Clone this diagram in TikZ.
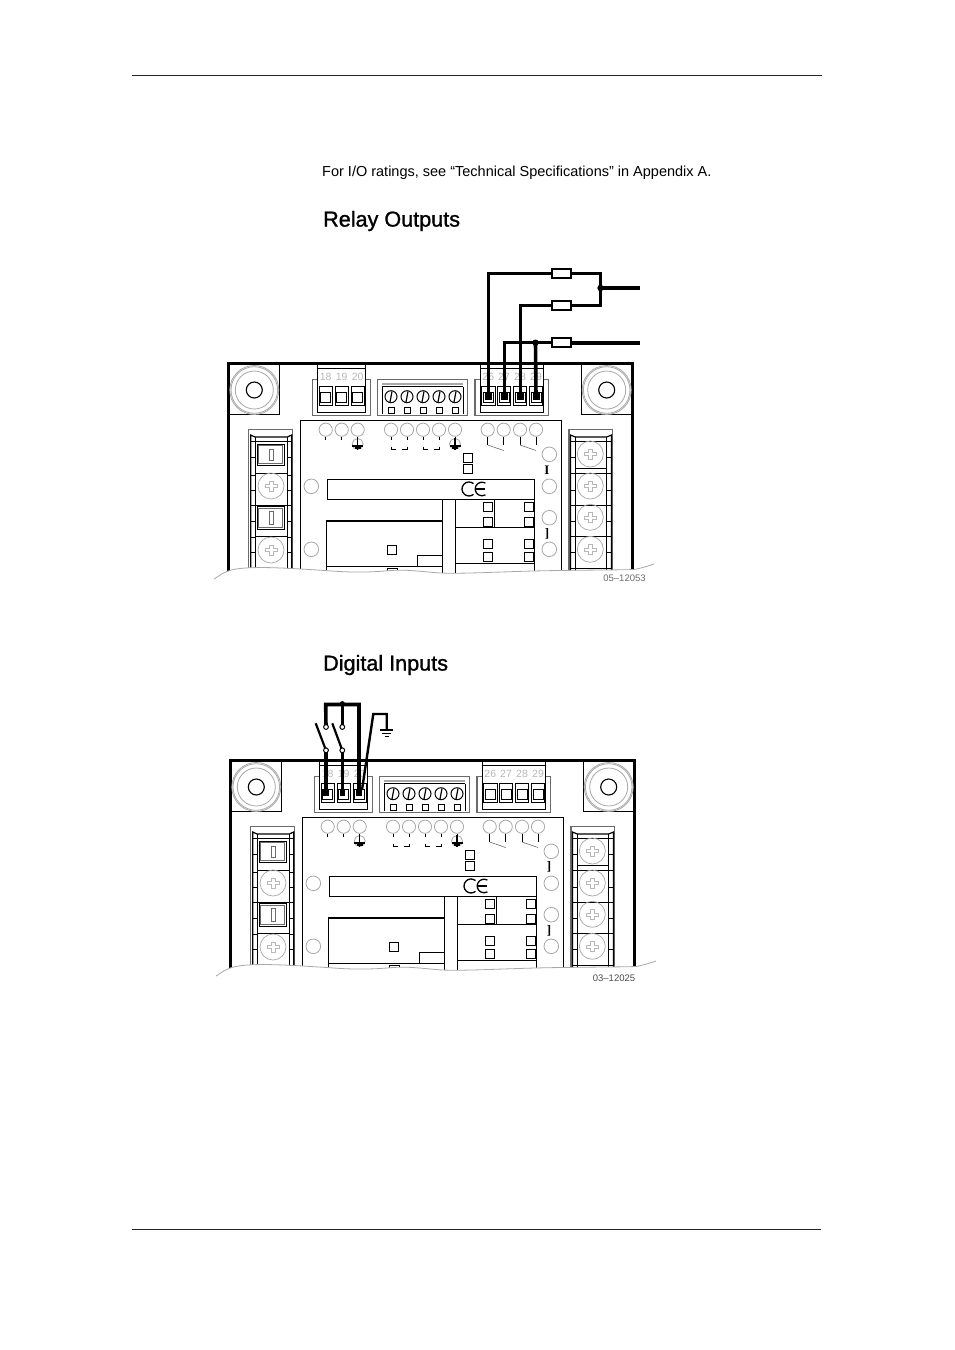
\documentclass[tikz,border=0pt]{standalone}
\usepackage{fontspec}
\setmainfont{Liberation Sans}
\newfontfamily\headfont[FakeBold=1.2]{Liberation Sans}
\newfontfamily\seriffont{Liberation Serif}
\definecolor{lg}{gray}{0.66}
\definecolor{sg}{gray}{0.72}
\definecolor{mg}{gray}{0.42}
\tikzset{
  blk/.style={draw=black,line width=1pt},
  thk/.style={draw=black,line width=1.5pt},
  outerframe/.style={draw=black,line width=2.8pt},
  gry/.style={draw=lg,line width=0.8pt},
  dgry/.style={draw=mg,line width=1.2pt},
  wire/.style={draw=black,line width=3pt,line join=miter},
  heavy/.style={draw=black,line width=3.6pt},
  fuse/.style={draw=black,line width=2pt,fill=white,minimum width=19pt,minimum height=8.5pt,inner sep=0pt,rectangle},
  termnum/.style={text=sg,font=\fontsize{10.5}{11}\selectfont,inner sep=0pt},
  heading/.style={anchor=west,inner sep=0pt,font=\headfont\fontsize{21.6}{24}\selectfont},
  bodytext/.style={anchor=west,inner sep=0pt,font=\fontsize{14.5}{16}\selectfont},
  figcode/.style={text=mg,font=\fontsize{9.5}{10}\selectfont,inner sep=0pt},
  rl/.style={draw=black!85,line width=0.9pt},
  glyphmark/.style={font=\seriffont\bfseries\fontsize{13}{13}\selectfont,inner sep=0pt,text=black}
}
\newcommand{\screwpic}[2]{%
  \draw[gry,line width=0.7pt] (#1,#2) circle (13);
  \draw[draw=sg,line width=0.6pt] (#1-6,#2-1.5) -- (#1-2,#2-1.5) -- (#1-2,#2-5) -- (#1+2,#2-5) -- (#1+2,#2-1.5) -- (#1+6,#2-1.5) -- (#1+6,#2+1.5) -- (#1+2,#2+1.5) -- (#1+2,#2+5) -- (#1-2,#2+5) -- (#1-2,#2+1.5) -- (#1-6,#2+1.5) -- cycle;
}
\newcommand{\mountpic}[2]{%
  \draw[gry] (#1,#2) circle (24.5);
  \draw[gry] (#1,#2) circle (23.3);
  \draw[gry] (#1,#2) circle (19);
  \draw[blk,line width=1.1pt] (#1,#2) circle (8);
}
\newcommand{\boardbody}{%
  % outer frame
  \draw[outerframe] (228.3,575) -- (228.3,363.7) -- (632.5,363.7) -- (632.5,575);
  % mount boxes
  \draw[blk,line width=0.8pt] (228.3,414.3) -- (279.3,414.3) -- (279.3,364);
  \draw[blk,line width=0.8pt] (632,414.3) -- (581.7,414.3) -- (581.7,364);
  \mountpic{254.3}{390}
  \mountpic{606.7}{390}
  % left terminal
  \draw[dgry] (312.3,379.3) rectangle (370.3,415.7);
  \draw[fill=white,blk] (317.7,364) rectangle (365.7,412.7);
  \draw[blk] (317.7,368.8) -- (365.7,368.8);
  \foreach \n/\x in {18/325.7,19/341.7,20/357.7}{
    \node[termnum] at (\x,376.7) {\n};
    \draw[blk,fill=white] (\x-6.7,386) rectangle (\x+6.7,405);
    \draw[blk] (\x-5,392.5) rectangle (\x+5,402.5);
  }
  % middle connector
  \draw[dgry,fill=white] (377.7,379.3) rectangle (467.3,415.7);
  \draw[lg,line width=1.6pt] (382,384) -- (463,384);
  \draw[blk] (382,386.5) -- (463,386.5);
  \draw[blk] (382,386.5) -- (382,414);
  \draw[blk] (463,386.5) -- (463,414);
  \foreach \x in {391,407,423,439,455}{
    \draw[blk] (\x,396.7) circle (6);
    \draw[blk,line width=1.2pt] (\x-1,402) -- (\x+1,391.5);
    \draw[blk,fill=white] (\x-3,407) rectangle (\x+3,413);
  }
  % right terminal
  \draw[dgry] (475,379.3) rectangle (548.3,415.7);
  \draw[fill=white,blk] (480,364) rectangle (543.3,412.7);
  \draw[blk] (480,368.8) -- (543.3,368.8);
  \foreach \n/\x in {26/488.3,27/504,28/520,29/536}{
    \node[termnum] at (\x,376.7) {\n};
    \draw[blk,fill=white] (\x-6.7,386) rectangle (\x+6.7,405);
    \draw[blk] (\x-5,392.5) rectangle (\x+5,402.5);
  }
  % panel
  \draw[blk] (300.3,575) -- (300.3,420.3) -- (561.7,420.3) -- (561.7,575);
  \foreach \x in {325.7,341.7,357.7,391,407,423,439,455,487.7,503.7,520,536}{
    \draw[gry] (\x,429.7) circle (6.6);
  }
  \foreach \x in {325.7,341.7,357.7,391,407,423,439,455}{
    \draw[blk,line width=0.7pt] (\x,436.5) -- (\x,439.5);
  }
  \foreach \x in {357.7,455}{
    \draw[gry] (\x,444) circle (5.5);
    \draw[black,line width=1.2pt] (\x,438) -- (\x,450);
    \draw[black,line width=2pt] (\x-5.5,445.5) -- (\x+5.5,445.5);
    \draw[black,line width=1.6pt] (\x-3,448) -- (\x+3,448);
  }
  \foreach \a/\b in {391/407,423/439}{
    \draw[blk,line width=0.7pt] (\a,446.5) -- (\a,449.3) -- (\a+5,449.3);
    \draw[blk,line width=0.7pt] (\b,446.5) -- (\b,449.3) -- (\b-5,449.3);
  }
  \foreach \x in {487.7,503.7,520,536}{
    \draw[blk,line width=0.7pt] (\x,436.5) -- (\x,445);
  }
  \draw[draw=mg,line width=0.6pt] (487.7,445) -- (503.7,450.5) (520,445) -- (536,450.5);
  % side holes
  \foreach \x/\y in {311.3/486.3,311.3/549.3,549.3/454.3,549.3/486.3,549.3/517.7,549.3/549.3}{
    \draw[gry] (\x,\y) circle (7.3);
  }
  % central blocks
  \draw[blk] (327.3,499.3) -- (327.3,479.3) -- (534.3,479.3) -- (534.3,575);
  \draw[blk] (327.3,499.3) -- (534.3,499.3);
  \draw[thk] (326.7,575) -- (326.7,521) -- (442.3,521);
  \draw[blk] (442.3,499.3) -- (442.3,575);
  \draw[blk] (455.7,499.3) -- (455.7,575);
  \draw[blk] (494.3,499.3) -- (494.3,527.3);
  \draw[blk] (455.7,527.3) -- (534.3,527.3);
  \draw[blk] (455.7,563.3) -- (534.3,563.3);
  \draw[blk] (326.7,566) -- (442.3,566);
  \draw[blk] (417.3,566) -- (417.3,555) -- (442.3,555);
  \draw[blk] (387.5,545.5) rectangle (396.5,554.5);
  \draw[blk] (387,568.5) rectangle (397,575);
  \foreach \x/\y in {488/506.7,488/521.7,488/544.3,488/557.3,529/506.7,529/521.7,529/544.3,529/557.3,468/457.7,468/469.3}{
    \draw[blk] (\x-4.5,\y-4.5) rectangle (\x+4.5,\y+4.5);
  }
  % CE mark
  \draw[black,line width=1.3pt] (473.5,483.6) arc[start angle=-50,end angle=-310,radius=7];
  \draw[black,line width=1.3pt] (485.4,483.1) arc[start angle=-60,end angle=-300,radius=6.8];
  \draw[black,line width=1.3pt] (476,489) -- (484.5,489);
  % left rail block
  \draw[dgry] (248.3,575) -- (248.3,429.3) -- (292.3,429.3) -- (292.3,575);
  \draw[blk,line width=1.2pt] (250.7,575) -- (250.7,435) -- (255,437) -- (287.3,437) -- (291.7,435) -- (291.7,575);
  \draw[blk] (255,575) -- (255,437);
  \draw[blk] (287.3,575) -- (287.3,437);
  \foreach \y in {441.7,473.3,505,536,568.3}{\draw[blk] (255,\y) -- (287.3,\y);}
  \foreach \y in {441.7,457,475,490,505,521,537,552,568.3}{
    \draw[blk,line width=0.6pt] (250.7,\y) -- (255,\y);
    \draw[blk,line width=0.6pt] (287.3,\y) -- (291.7,\y);
  }
  \foreach \a/\b in {444/465,506.7/529}{
    \draw[blk,line width=1pt,fill=white] (257.3,\a) rectangle (284,\b);
    \draw[dgry,line width=0.8pt] (258.8,\a+1.5) rectangle (282.5,\b-1.5);
    \draw[draw=mg,line width=0.8pt] (269,\a+5) rectangle (273,\b-5);
  }
  \screwpic{271}{486}
  \screwpic{271}{550}
  % right rail block
  \draw[dgry] (569,575) -- (569,429.3) -- (612.3,429.3) -- (612.3,575);
  \draw[blk,line width=1.2pt] (570.5,575) -- (570.5,435) -- (575.3,437) -- (606.7,437) -- (611.5,435) -- (611.5,575);
  \draw[blk] (575.3,575) -- (575.3,437);
  \draw[blk] (606.7,575) -- (606.7,437);
  \foreach \y in {441.7,468,473.3,505,536,568.3}{\draw[blk] (575.3,\y) -- (606.7,\y);}
  \foreach \y in {441.7,457,473.3,490,505,521,536,552,568.3}{
    \draw[blk,line width=0.6pt] (570.5,\y) -- (575.3,\y);
    \draw[blk,line width=0.6pt] (606.7,\y) -- (611.5,\y);
  }
  \foreach \y in {454,486,517.3,549.3}{\screwpic{590.3}{\y}}
  % torn edge
  \fill[white] (214,579) .. controls (222,574) and (226,570) .. (240,568.5) .. controls (262,566) and (300,569) .. (325,570.5) .. controls (350,572.5) and (365,572.5) .. (385,571) .. controls (405,569) and (415,571) .. (440,573) .. controls (470,574) and (510,571) .. (560,570.5) .. controls (590,570) and (620,570) .. (634,569.5) .. controls (642,568) and (648,566) .. (654,564) -- (660,590) -- (210,590) -- cycle;
  \draw[gry] (214,579) .. controls (222,574) and (226,570) .. (240,568.5) .. controls (262,566) and (300,569) .. (325,570.5) .. controls (350,572.5) and (365,572.5) .. (385,571) .. controls (405,569) and (415,571) .. (440,573) .. controls (470,574) and (510,571) .. (560,570.5) .. controls (590,570) and (620,570) .. (634,569.5) .. controls (642,568) and (648,566) .. (654,564);
}
\begin{document}
\begin{tikzpicture}[x=1pt,y=-1pt]
\useasboundingbox (0,0) rectangle (954,1350);
\fill[white] (0,0) rectangle (954,1350);
% page rules
\coordinate (t1) at (132,75.3); \coordinate (t2) at (822,75.3);
\coordinate (b1) at (132,1229.5); \coordinate (b2) at (821,1229.5);
\draw[rl] (t1) -- (t2);
\draw[rl] (b1) -- (b2);
% text
\node[bodytext] (intro) at (322,172.5) {For I/O ratings, see “Technical Specifications” in Appendix A.};
\node[heading] (h1) at (323,221) {Relay Outputs};
\node[heading] (h2) at (323,665) {Digital Inputs};
% boards
\begin{scope}
  \boardbody
  \node[glyphmark] (m1) at (547,470) {I};
  \node[glyphmark] (m2) at (547,534) {]};
\end{scope}
\begin{scope}[shift={(2,397)}]
  \boardbody
  \node[glyphmark] (m3) at (547,470) {]};
  \node[glyphmark] (m4) at (547,534) {]};
\end{scope}
\node[figcode] (c1) at (624.5,578.5) {05--12053};
\node[figcode,text=black!70] (c2) at (614,978.5) {03--12025};
% relay wiring
\node[fuse] (f1) at (561.5,273.5) {};
\node[fuse] (f2) at (561.5,305.5) {};
\node[fuse] (f3) at (561.5,342.7) {};
\coordinate (ta) at (488,396);
\coordinate (tb) at (504,396);
\coordinate (tc) at (520,396);
\coordinate (td) at (536,396);
\coordinate (j1) at (600.5,288);
\coordinate (j2) at (535.5,342.7);
\coordinate (e1) at (640,288);
\coordinate (e2) at (640,342.7);
\draw[wire] (ta) |- (f1.west);
\draw[wire] (tc) |- (f2.west);
\draw[wire] (tb) |- (f3.west);
\draw[wire] (f1.east) -| (j1);
\draw[wire] (f2.east) -| (j1);
\draw[heavy] (j1) -- (e1);
\draw[heavy] (f3.east) -- (e2);
\draw[heavy] (j2) -- (td);
\fill (j1) circle (3.2);
\fill (j2) circle (3.2);
\foreach \p in {ta,tb,tc,td}{\fill (\p) ++(-3.5,-3) rectangle ++(7,6.5);}
% digital input wiring
\coordinate (u1) at (326,727);
\coordinate (u2) at (342.3,727);
\coordinate (l1) at (326,750.3);
\coordinate (l2) at (342.3,750.3);
\coordinate (s1) at (315.7,723.3);
\coordinate (s2) at (332.3,723.3);
\coordinate (bar1) at (325.7,704.5);
\coordinate (bar2) at (359,704.5);
\coordinate (bar3) at (342.3,704.5);
\coordinate (i1) at (326,793);
\coordinate (i2) at (342.3,793);
\coordinate (i3) at (359,793);
\coordinate (i4) at (362,790);
\coordinate (g0) at (373.3,714);
\coordinate (g1) at (386.7,714);
\coordinate (g2) at (386.7,730);
\draw[heavy] (u1) -- (bar1) -- (bar2) -- (i3);
\draw[wire] (u2) -- (bar3);
\fill (bar3) ++(0,-0.8) circle (2.6);
\draw[wire,line width=2.2pt] (s1) -- (l1);
\draw[wire,line width=2.2pt] (s2) -- (l2);
\draw[heavy] (l1) -- (i1);
\draw[heavy] (l2) -- (i2);
\draw[wire,line width=2.4pt] (i4) -- (g0) -- (g1) -- (g2);
\draw[black,line width=1.6pt] (380,730) -- (393,730) (382,733.3) -- (391,733.3) (384.8,736.6) -- (388.6,736.6);
\foreach \p in {u1,u2,l1,l2}{\draw[black,line width=1pt,fill=white] (\p) circle (2.4);}
\foreach \p in {i1,i2,i3}{\fill (\p) ++(-2.8,-3) rectangle ++(5.6,5.5);}
\end{tikzpicture}
\end{document}
